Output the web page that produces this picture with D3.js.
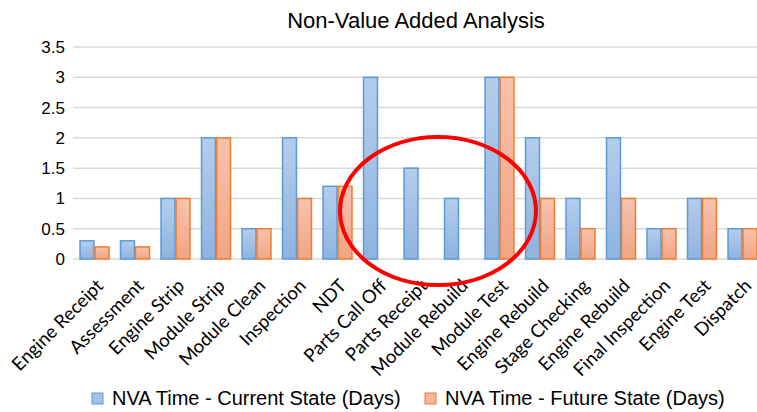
<!DOCTYPE html>
<html>
<head>
<meta charset="utf-8">
<script src="https://cdn.jsdelivr.net/npm/d3@7"></script>
<style>
  body { margin: 0; background: #fff; }
  svg { display: block; }
  .title { font-family: "Liberation Sans", Arial, sans-serif; font-size: 22px; fill: #000; }
  .ytick { font-family: "Liberation Sans", Arial, sans-serif; font-size: 17px; fill: #000; }
  .xtick { font-family: Lato, "Open Sans", sans-serif; font-size: 18.5px; fill: #000; }
  .legend { font-family: "Liberation Sans", Arial, sans-serif; font-size: 20px; fill: #000; }
</style>
</head>
<body>
<script>
// chart data
var categories = ['Engine Receipt', 'Assessment', 'Engine Strip', 'Module Strip', 'Module Clean',
  'Inspection', 'NDT', 'Parts Call Off', 'Parts Receipt', 'Module Rebuild', 'Module Test',
  'Engine Rebuild', 'Stage Checking', 'Engine Rebuild ', 'Final Inspection', 'Engine Test', 'Dispatch'];
var currentState = [0.3, 0.3, 1, 2, 0.5, 2, 1.2, 3, 1.5, 1, 3, 2, 1, 2, 0.5, 1, 0.5];
var futureState = [0.2, 0.2, 1, 2, 0.5, 1, 1.2, 0, 0, 0, 3, 1, 0.5, 1, 0.5, 1, 0.5];
var seriesNames = ['NVA Time - Current State (Days)', 'NVA Time - Future State (Days)'];
var yTicks = [0, 0.5, 1, 1.5, 2, 2.5, 3, 3.5];

var width = 757, height = 412;
var margin = {top: 47, left: 74, bottom: 153};

var svg = d3.select('body').append('svg')
  .attr('width', width)
  .attr('height', height);

var defs = svg.append('defs');
function gradient(id, top, bottom) {
  var g = defs.append('linearGradient').attr('id', id)
    .attr('x1', 0).attr('y1', 0).attr('x2', 0).attr('y2', 1);
  g.append('stop').attr('offset', '0%').attr('stop-color', top);
  g.append('stop').attr('offset', '100%').attr('stop-color', bottom);
}
gradient('gBlue', '#b4cdec', '#8fb3df');
gradient('gOrange', '#f7c2ae', '#f2a584');

var series = [
  {name: seriesNames[0], values: currentState, fill: 'url(#gBlue)', stroke: '#5b9bd5', swatch: '#a4c2e8'},
  {name: seriesNames[1], values: futureState, fill: 'url(#gOrange)', stroke: '#ed7d31', swatch: '#f5b59a'}
];

var y = d3.scaleLinear().domain([0, 3.5]).range([height - margin.bottom, margin.top]);
var x = d3.scaleBand().domain(d3.range(categories.length))
  .range([74.25, 74.25 + 40.5 * categories.length])
  .paddingInner(0.285).paddingOuter(0.1425);
var xs = d3.scaleBand().domain([0, 1]).range([0, x.bandwidth()]).paddingInner(0.07);

// title
svg.append('text').attr('class', 'title')
  .attr('x', 416).attr('y', 28)
  .attr('text-anchor', 'middle')
  .text('Non-Value Added Analysis');

// gridlines
svg.append('g').selectAll('line')
  .data(yTicks)
  .join('line')
  .attr('x1', 73).attr('x2', width)
  .attr('y1', d => y(d)).attr('y2', d => y(d))
  .attr('stroke', '#d9d9d9')
  .attr('stroke-width', 1.5);

// y labels
svg.append('g').selectAll('text')
  .data(yTicks)
  .join('text')
  .attr('class', 'ytick')
  .attr('x', 65)
  .attr('y', d => y(d) + 6)
  .attr('text-anchor', 'end')
  .text(d => d);

// bars (zero values are not drawn)
series.forEach((s, si) => {
  var points = s.values.map((v, i) => ({i: i, v: v})).filter(p => p.v > 0);
  svg.append('g').selectAll('rect')
    .data(points)
    .join('rect')
    .attr('x', p => x(p.i) + xs(si))
    .attr('y', p => y(p.v))
    .attr('width', xs.bandwidth())
    .attr('height', p => y(0) - y(p.v))
    .attr('fill', s.fill)
    .attr('stroke', s.stroke)
    .attr('stroke-width', 1.5);
});

// category labels (rotated)
svg.append('g').selectAll('text')
  .data(categories)
  .join('text')
  .attr('class', 'xtick')
  .attr('text-anchor', 'end')
  .attr('transform', (d, i) => `translate(${x(i) + x.bandwidth() / 2 + 10},${y(0) + 28}) rotate(-45)`)
  .text(d => d.trim());

// annotation ellipse
svg.append('ellipse')
  .attr('cx', 438).attr('cy', 211)
  .attr('rx', 98).attr('ry', 74)
  .attr('fill', 'none')
  .attr('stroke', '#ff0000')
  .attr('stroke-width', 4);

// legend
var legendPos = [{sx: 92, tx: 112}, {sx: 425, tx: 445}];
var legend = svg.append('g');
series.forEach((s, i) => {
  legend.append('rect')
    .attr('x', legendPos[i].sx).attr('y', 393)
    .attr('width', 11).attr('height', 11)
    .attr('fill', s.swatch)
    .attr('stroke', s.stroke)
    .attr('stroke-width', 1);
  legend.append('text').attr('class', 'legend')
    .attr('x', legendPos[i].tx).attr('y', 405)
    .text(s.name);
});
</script>
</body>
</html>
